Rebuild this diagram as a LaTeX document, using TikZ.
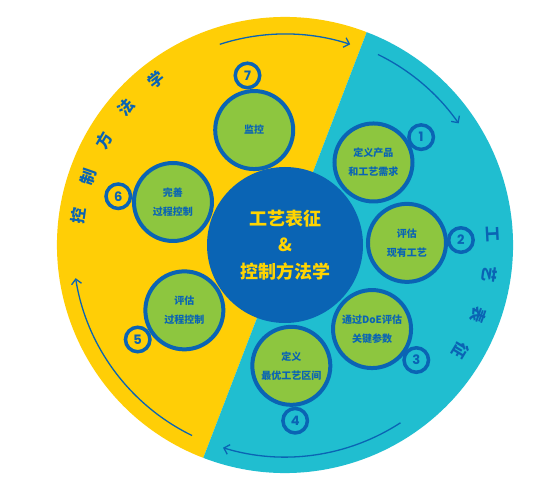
\documentclass[tikz,border=0pt]{standalone}
\usepackage{fontspec}
\setmainfont{Noto Sans CJK SC}
\newfontfamily\numfont{Poppins}
\usetikzlibrary{arrows.meta}
\definecolor{ctrlyellow}{HTML}{FFCE06}
\definecolor{charcyan}{HTML}{20BED0}
\definecolor{deepblue}{HTML}{0A64B4}
\definecolor{leafgreen}{HTML}{8DC63F}
\definecolor{titleyellow}{HTML}{FFD400}

\begin{document}
\begin{tikzpicture}[
    x=1pt, y=1pt,
    core/.style={circle, fill=deepblue, minimum size=156pt, inner sep=0pt, text=titleyellow, align=center, font=\fontsize{18}{26.5}\selectfont\bfseries},
    stage/.style={circle, draw=deepblue, line width=4pt, fill=leafgreen, minimum size=78pt, inner sep=0pt, text=deepblue, align=center, font=\fontsize{10}{19}\selectfont\bfseries},
    badge/.style={circle, draw=deepblue, line width=3.5pt, minimum size=24.5pt, inner sep=0pt, text=deepblue, font=\numfont\bfseries\fontsize{13}{13}\selectfont},
    side/.style={text=deepblue, inner sep=0pt, font=\fontsize{16}{16}\selectfont\bfseries},
    arrow/.style={line width=1.3pt, draw=deepblue, ->, >={Straight Barb[length=5pt,width=10pt]}}
]
    \useasboundingbox (-285pt,-250pt) rectangle (268pt,245pt);
    \fill[white] (-285pt,-250pt) rectangle (268pt,245pt);

    % Background halves
    \fill[ctrlyellow] (69:228pt) arc[start angle=69, end angle=249, radius=228pt] -- cycle;
    \fill[charcyan] (249:228pt) arc[start angle=249, end angle=429, radius=228pt] -- cycle;

    % Cycle arrows
    \draw[arrow] (108:211pt) arc[start angle=108, end angle=72, radius=211pt];
    \draw[arrow] (64:212pt) arc[start angle=64, end angle=35, radius=212pt];
    \draw[arrow] (-57:212pt) arc[start angle=-57, end angle=-107, radius=212pt];
    \draw[arrow] (244:212pt) arc[start angle=244, end angle=189, radius=212pt];

    % Nodes
    \node[core] (core) at (0,0) {工艺表征\\\&\\控制方法学};
    \node[stage] (s1) at (43:121pt) {定义产品\\和工艺需求};
    \node[stage] (s2) at (1:122pt) {评估\\现有工艺};
    \node[stage] (s3) at (-44:121pt) {通过DoE评估\\关键参数};
    \node[stage] (s4) at (-87:121pt) {定义\\最优工艺区间};
    \node[stage] (s5) at (213:120pt) {评估\\过程控制};
    \node[stage] (s6) at (159:120pt) {完善\\过程控制};
    \node[stage] (s7) at (105:119pt) {监控};

    % Step numbers
    \node[badge] (b1) at ([shift={(28:54pt)}]s1.center) {1};
    \node[badge] (b2) at ([shift={(3:54pt)}]s2.center) {2};
    \node[badge] (b3) at ([shift={(-35:54pt)}]s3.center) {3};
    \node[badge] (b4) at ([shift={(-86:55pt)}]s4.center) {4};
    \node[badge] (b5) at ([shift={(212:55pt)}]s5.center) {5};
    \node[badge] (b6) at ([shift={(174:55pt)}]s6.center) {6};
    \node[badge] (b7) at ([shift={(97:55pt)}]s7.center) {7};

    % Side titles
    \node[side, rotate=82] (m1) at (172:209pt) {控};
    \node[side, rotate=71] (m2) at (161:208pt) {制};
    \node[side, rotate=60] (m3) at (150:209pt) {方};
    \node[side, rotate=49] (m4) at (139:210pt) {法};
    \node[side, rotate=38] (m5) at (128:210pt) {学};
    \node[side, rotate=-87] (t1) at (3:208pt) {工};
    \node[side, rotate=-98] (t2) at (-8:207pt) {艺};
    \node[side, rotate=-110] (t3) at (-20:206pt) {表};
    \node[side, rotate=-121] (t4) at (-31:205pt) {征};
\end{tikzpicture}
\end{document}
